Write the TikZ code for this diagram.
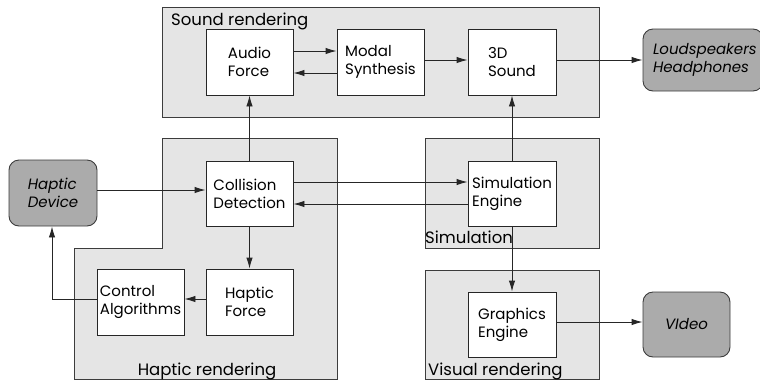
\documentclass[tikz,border=0pt]{standalone}
\usepackage{fontspec}
\setmainfont{Poppins}
\usetikzlibrary{arrows.meta}
\definecolor{regionfill}{RGB}{229,229,229}
\definecolor{devfill}{RGB}{171,171,171}
\definecolor{edge}{RGB}{60,60,60}
\begin{document}
\begin{tikzpicture}[x=1pt,y=-1pt,
  region/.style={draw=edge,fill=regionfill,line width=0.9pt},
  blk/.style={draw=black!85,fill=white,line width=0.9pt,minimum width=87pt,minimum height=66pt,align=left,inner sep=0pt,font=\fontsize{15}{18}\selectfont},
  dev/.style={draw=edge,fill=devfill,line width=0.9pt,rounded corners=10pt,minimum width=88pt,minimum height=66pt,align=left,inner sep=0pt,font=\fontsize{15}{18}\selectfont\itshape},
  lbl/.style={inner sep=0pt,font=\fontsize{16.5}{18}\selectfont},
  arr/.style={-{Latex[length=11pt,width=6.5pt]},line width=0.9pt,draw=black!85}]
\useasboundingbox (0,0) rectangle (760,381);
% regions
\path[region] (162,7) rectangle (599,117);
\path[region] (162,138) -- (337,138) -- (337,379) -- (74,379) -- (74,248) -- (162,248) -- cycle;
\path[region] (425,138) rectangle (599,248);
\path[region] (425,270) rectangle (599,379);
\node[lbl,anchor=base west] (lsound) at (171,25) {Sound rendering};
\node[lbl,anchor=base] (lhaptic) at (207,375) {Haptic rendering};
\node[lbl,anchor=base west] (lsim) at (425,243) {Simulation};
\node[lbl,anchor=base west] (lvis) at (428,375) {Visual rendering};
% blocks
\node[blk] (AF) at (249.5,62) {Audio\\Force};
\node[blk] (MS) at (380.5,62) {Modal\\Synthesis};
\node[blk,minimum width=88pt] (SD) at (512,62) {3D\\Sound};
\node[blk,minimum height=65pt] (CD) at (249.5,193.5) {Collision\\Detection};
\node[blk,minimum width=88pt,minimum height=65pt] (SE) at (512,193.5) {Simulation\\Engine};
\node[blk] (HF) at (249.5,302) {Haptic\\Force};
\node[blk] (CA) at (140.5,302) {Control\\Algorithms};
\node[blk,minimum width=88pt,minimum height=65pt] (GE) at (512,324.5) {Graphics\\Engine};
% devices
\node[dev,minimum width=120pt,minimum height=62pt,text width=100pt] (LH) at (703,60) {Loudspeakers\\Headphones};
\node[dev] (HD) at (53,193) {\hfil Haptic\hfil\\\hfil Device\hfil};
\node[dev,minimum width=87pt,minimum height=65pt] (VI) at (686.5,324.5) {VIdeo};
% connectors
\draw[arr] ([yshift=11pt]AF.east) -- ([yshift=11pt]AF.east -| MS.west);
\draw[arr] ([yshift=-11pt]MS.west) -- ([yshift=-11pt]MS.west -| AF.east);
\draw[arr] ([yshift=2pt]MS.east) -- ([yshift=2pt]MS.east -| SD.west);
\draw[arr] ([yshift=2pt]SD.east) -- ([yshift=2pt]SD.east -| LH.west);
\draw[arr] ([yshift=3pt]HD.east) -- ([yshift=3pt]HD.east -| CD.west);
\draw[arr] ([yshift=11.5pt]CD.east) -- ([yshift=11.5pt]CD.east -| SE.west);
\draw[arr] ([yshift=-10.5pt]SE.west) -- ([yshift=-10.5pt]SE.west -| CD.east);
\draw[arr] (CD.north) -- (AF.south);
\draw[arr] (SE.north) -- (SD.south);
\draw[arr] (SE.south) -- (GE.north);
\draw[arr] ([yshift=2.5pt]GE.east) -- ([yshift=2.5pt]GE.east -| VI.west);
\draw[arr] (CD.south) -- (HF.north);
\draw[arr] ([yshift=3pt]HF.west) -- ([yshift=3pt]HF.west -| CA.east);
\draw[arr] ([yshift=3pt]CA.west) -| ([xshift=-1pt]HD.south);
\end{tikzpicture}
\end{document}
